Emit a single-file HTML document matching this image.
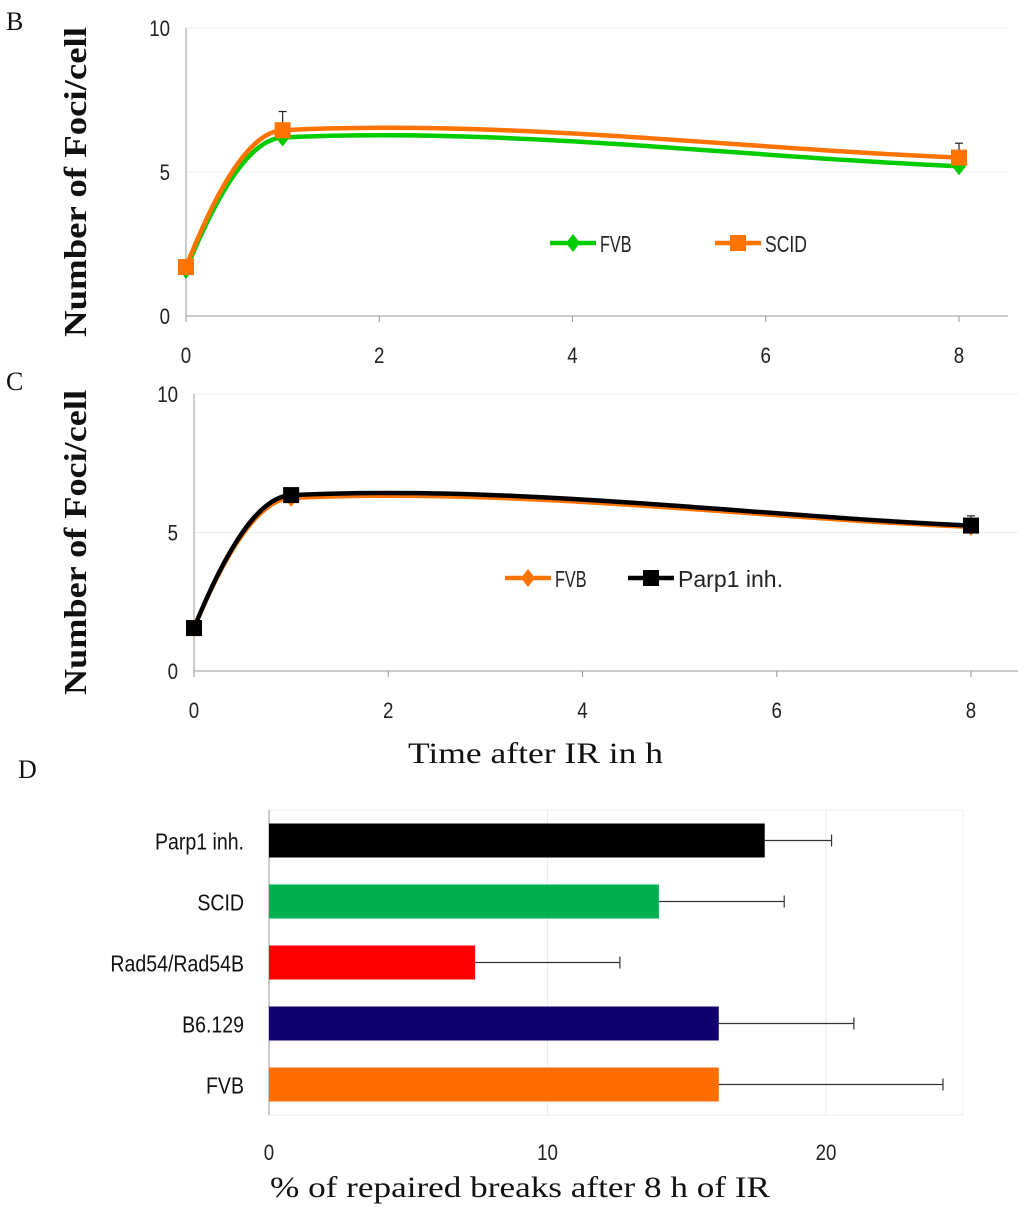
<!DOCTYPE html>
<html><head><meta charset="utf-8"><style>
body{margin:0;background:#fff;}
svg text{font-family:"Liberation Sans",sans-serif;}
.serif{font-family:"Liberation Serif",serif;}
</style></head><body>
<svg id="svg" width="1024" height="1208" viewBox="0 0 1024 1208" xmlns="http://www.w3.org/2000/svg"></svg>
<script>
// Panel B data
const bX = [0, 1, 8];
const bFVB = [1.6, 6.2, 5.2];
const bSCID = [1.7, 6.45, 5.5];
const bSCIDErr = [0.2, 0.65, 0.5];
const bFVBErr = [0.1, 0.1, 0.1];
// Panel C data
const cX = [0, 1, 8];
const cFVB = [1.55, 6.25, 5.2];
const cParp = [1.55, 6.35, 5.25];
const cParpErr = [0.1, 0.2, 0.35];
const xTicks = [0, 2, 4, 6, 8];
const yTicks = [0, 5, 10];
// Panel D data
const dCats = ["Parp1 inh.", "SCID", "Rad54/Rad54B", "B6.129", "FVB"];
const dVals = [17.8, 14.0, 7.4, 16.15, 16.15];
const dErr = [2.4, 4.5, 5.2, 4.85, 8.05];
const dColors = ["#000000", "#00b050", "#ff0000", "#10006b", "#ff6d00"];
const dTicks = [0, 10, 20];

const NS = "http://www.w3.org/2000/svg";
const svg = document.getElementById("svg");
function el(tag, attrs, parent) {
  const e = document.createElementNS(NS, tag);
  for (const k in attrs) e.setAttribute(k, attrs[k]);
  (parent || svg).appendChild(e);
  return e;
}
function txt(s, attrs, parent) { const t = el("text", attrs, parent); t.textContent = s; return t; }

function smoothPath(pts) {
  const n = pts.length;
  const m = pts.map((p, i) => {
    if (i === 0) return 1.8 * (pts[1][1] - p[1]) / (pts[1][0] - p[0]);
    if (i === n - 1) return (p[1] - pts[i - 1][1]) / (p[0] - pts[i - 1][0]);
    const a = pts[i - 1], b = pts[i + 1];
    return 0.35 * (b[1] - a[1]) / (b[0] - a[0]);
  });
  let d = "M" + pts[0][0] + "," + pts[0][1];
  for (let i = 0; i < n - 1; i++) {
    const p1 = pts[i], p2 = pts[i + 1], dx = (p2[0] - p1[0]) / 3;
    const c1 = [p1[0] + dx, p1[1] + m[i] * dx];
    const c2 = [p2[0] - dx, p2[1] - m[i + 1] * dx];
    d += " C" + c1 + " " + c2 + " " + p2;
  }
  return d;
}

function lineChart(cfg) {
  const g = el("g", {});
  
  
  const sx = v => cfg.x0 + (v / 8) * (cfg.x8 - cfg.x0);
  const sy = v => cfg.y0 - (v / 10) * (cfg.y0 - cfg.y10);
  yTicks.forEach(t => {
    const gl = el("line", {x1: cfg.x0, x2: cfg.right, y1: sy(t), y2: sy(t), stroke: t === 0 ? "#999" : "#ececec", "stroke-width": 1}, g);
    
    
    const lb = txt(t, {x: cfg.x0 - 16, y: sy(t) + 8, "text-anchor": "end", "font-size": 22, fill: "#222", transform: "translate(" + (cfg.x0 - 16) + ",0) scale(0.85,1) translate(" + (-(cfg.x0 - 16)) + ",0)"}, g);
    
    
  });
  const ax = el("line", {x1: cfg.x0, x2: cfg.x0, y1: cfg.y10, y2: cfg.y0 + 6, stroke: "#999"}, g);
  
  
  xTicks.forEach(t => {
    el("line", {x1: sx(t), x2: sx(t), y1: cfg.y0, y2: cfg.y0 + 6, stroke: "#999"}, g);
    const lb = txt(t, {x: sx(t), y: cfg.y0 + 47, "text-anchor": "middle", "font-size": 22, fill: "#222", transform: "translate(" + sx(t) + ",0) scale(0.85,1) translate(" + (-sx(t)) + ",0)"}, g);
    
    
  });
  const yt = txt("Number of Foci/cell", {transform: "translate(" + cfg.titleX + "," + ((cfg.y0 + cfg.y10) / 2 + 10) + ") rotate(-90)", "text-anchor": "middle", "font-size": 32, "font-weight": "bold", class: "serif", fill: "#111", textLength: cfg.titleLen, lengthAdjust: "spacingAndGlyphs"}, g);
  
  
  cfg.series.forEach(s => {
    const sg = el("g", {}, g);
    
    
    const pts = s.ys.map((v, i) => [sx(s.xs[i]), sy(v)]);
    if (s.err) s.ys.forEach((v, i) => {
      const x = sx(s.xs[i]);
      el("line", {x1: x, x2: x, y1: sy(v), y2: sy(v + s.err[i]), stroke: "#222", "stroke-width": 1.2}, sg);
      el("line", {x1: x - 4, x2: x + 4, y1: sy(v + s.err[i]), y2: sy(v + s.err[i]), stroke: "#222", "stroke-width": 1.2}, sg);
    });
    el("path", {d: smoothPath(pts), fill: "none", stroke: s.color, "stroke-width": 4.5}, sg);
    pts.forEach(p => {
      const m = s.marker === "diamond"
        ? el("polygon", {points: [p[0], p[1] - 9, p[0] + 7, p[1], p[0], p[1] + 9, p[0] - 7, p[1]].join(" "), fill: s.color}, sg)
        : el("rect", {x: p[0] - 8, y: p[1] - 8, width: 16, height: 16, fill: s.color}, sg);
      
      
    });
    const lg = el("g", {}, g);
    
    
    const lx = s.legX, ly = cfg.legY;
    el("line", {x1: lx, x2: lx + 46, y1: ly, y2: ly, stroke: s.color, "stroke-width": 4.5}, lg);
    if (s.marker === "diamond") el("polygon", {points: [lx + 23, ly - 9, lx + 30, ly, lx + 23, ly + 9, lx + 16, ly].join(" "), fill: s.color}, lg);
    else el("rect", {x: lx + 15, y: ly - 8, width: 16, height: 16, fill: s.color}, lg);
    txt(s.label, {x: lx + 50, y: ly + 9, "font-size": 23, fill: "#222", textLength: s.label.length * 10.5, lengthAdjust: "spacingAndGlyphs"}, lg);
  });
}

lineChart({name: "panel-b-chart", x0: 186, x8: 959, y0: 316, y10: 28, right: 1008, titleX: 86, titleLen: 310, legY: 243,
  series: [
    {label: "FVB", xs: bX, ys: bFVB, err: bFVBErr, color: "#00cc00", marker: "diamond", legX: 550},
    {label: "SCID", xs: bX, ys: bSCID, err: bSCIDErr, color: "#ff7300", marker: "square", legX: 715}
  ]});
lineChart({name: "panel-c-chart", x0: 194, x8: 971, y0: 671, y10: 394, right: 1018, titleX: 86, titleLen: 305, legY: 578,
  series: [
    {label: "FVB", xs: cX, ys: cFVB, err: null, color: "#ff7300", marker: "diamond", legX: 505},
    {label: "Parp1 inh.", xs: cX, ys: cParp, err: cParpErr, color: "#000000", marker: "square", legX: 628}
  ]});

[["B", 6, 30], ["C", 6, 390], ["D", 18, 778]].forEach(a => {
  const t = txt(a[0], {x: a[1], y: a[2], "font-size": 26, class: "serif", fill: "#111"});
  
  
});
const xt = txt("Time after IR in h", {x: 408, y: 763, "font-size": 30, class: "serif", fill: "#111", textLength: 255, lengthAdjust: "spacingAndGlyphs"});



(function () {
  const g = el("g", {});
  
  
  const x0 = 269, unit = 27.85, top = 810, bottom = 1115, right = 963;
  const sx = v => x0 + v * unit;
  const band = (bottom - top) / dCats.length;
  el("rect", {x: x0, y: top, width: right - x0, height: bottom - top, fill: "none", stroke: "#ececec"}, g);
  dTicks.forEach(t => {
    el("line", {x1: sx(t), x2: sx(t), y1: top, y2: bottom, stroke: t === 0 ? "#999" : "#ececec"}, g);
    const lb = txt(t, {x: sx(t), y: 1160, "text-anchor": "middle", "font-size": 22, fill: "#222", transform: "translate(" + sx(t) + ",0) scale(0.85,1) translate(" + (-sx(t)) + ",0)"}, g);
    
    
  });
  dCats.forEach((c, i) => {
    const cy = top + band * (i + 0.5);
    const b = el("rect", {x: x0, y: cy - 17, width: dVals[i] * unit, height: 34, fill: dColors[i]}, g);
    
    
    const ex = sx(dVals[i] + dErr[i]);
    el("line", {x1: sx(dVals[i]), x2: ex, y1: cy, y2: cy, stroke: "#333", "stroke-width": 1.2}, g);
    el("line", {x1: ex, x2: ex, y1: cy - 6, y2: cy + 6, stroke: "#333", "stroke-width": 1.2}, g);
    const lb = txt(c, {x: 244, y: cy + 9, "text-anchor": "end", "font-size": 23, fill: "#111", transform: "translate(244,0) scale(0.85,1) translate(-244,0)"}, g);
    
    
  });
  const t = txt("% of repaired breaks after 8 h of IR", {x: 270, y: 1197, "font-size": 30, class: "serif", fill: "#111", textLength: 500, lengthAdjust: "spacingAndGlyphs"}, g);
  
  
})();
</script>
</body></html>
